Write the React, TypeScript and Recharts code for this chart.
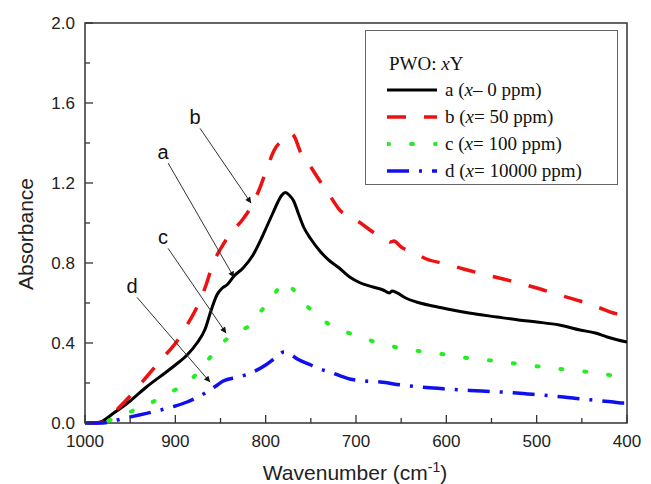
import { LineChart, Line, XAxis, YAxis, ReferenceArea, ReferenceLine } from 'recharts';

// wavenumber (cm-1) / absorbance pairs
const waveA = [1000, 990, 983, 969, 950, 932, 910, 900, 887, 876, 867, 861, 854, 848, 843, 835, 825, 814, 805, 799, 792, 787, 782, 778, 774, 769, 764, 758, 750, 740, 729, 720, 707, 695, 681, 670, 663, 660, 655, 645, 633, 615, 599, 575, 544, 520, 500, 475, 452, 435, 422, 410, 400];
const absA = [0, 0, 0.005, 0.047, 0.11, 0.18, 0.255, 0.29, 0.34, 0.4, 0.47, 0.555, 0.64, 0.675, 0.69, 0.735, 0.775, 0.84, 0.92, 0.98, 1.05, 1.1, 1.14, 1.152, 1.14, 1.11, 1.05, 0.98, 0.92, 0.86, 0.81, 0.78, 0.73, 0.7, 0.68, 0.665, 0.65, 0.66, 0.652, 0.625, 0.605, 0.585, 0.57, 0.55, 0.53, 0.515, 0.505, 0.49, 0.465, 0.45, 0.43, 0.415, 0.405];

const waveB = [1000, 990, 982, 975, 969, 950, 932, 915, 898, 887, 876, 866, 858, 850, 839, 825, 815, 806, 798, 791, 780, 772, 768, 762, 750, 740, 728, 717, 705, 695, 683, 673, 665, 662, 658, 650, 635, 622, 600, 581, 560, 537, 516, 496, 475, 452, 430, 415, 404, 400];
const absB = [0, 0, 0.003, 0.02, 0.047, 0.135, 0.23, 0.32, 0.41, 0.49, 0.58, 0.69, 0.8, 0.87, 0.947, 1.02, 1.09, 1.18, 1.28, 1.36, 1.42, 1.447, 1.43, 1.36, 1.28, 1.21, 1.13, 1.06, 1.03, 1.0, 0.96, 0.93, 0.91, 0.905, 0.91, 0.88, 0.85, 0.82, 0.795, 0.77, 0.745, 0.72, 0.695, 0.67, 0.64, 0.61, 0.575, 0.55, 0.54, 0.54];

const waveC = [1000, 985, 975, 959, 932, 908, 882, 863, 843, 830, 817, 807, 797, 788, 779, 770, 758, 745, 732, 720, 706, 682, 657, 631, 605, 581, 555, 529, 503, 478, 453, 430, 404, 400];
const absC = [0, 0, 0.01, 0.04, 0.09, 0.147, 0.22, 0.32, 0.42, 0.46, 0.49, 0.55, 0.6, 0.66, 0.705, 0.67, 0.6, 0.55, 0.5, 0.47, 0.447, 0.41, 0.38, 0.36, 0.345, 0.327, 0.315, 0.3, 0.285, 0.272, 0.26, 0.247, 0.23, 0.228];

const waveD = [1000, 980, 970, 958, 940, 917, 900, 887, 875, 865, 855, 847, 830, 814, 800, 788, 780, 775, 765, 750, 740, 729, 707, 690, 673, 650, 622, 600, 574, 548, 522, 496, 470, 450, 433, 415, 404, 400];
const absD = [0, 0, 0.008, 0.022, 0.04, 0.064, 0.085, 0.105, 0.13, 0.155, 0.185, 0.21, 0.23, 0.255, 0.29, 0.33, 0.355, 0.35, 0.32, 0.29, 0.27, 0.255, 0.22, 0.21, 0.205, 0.19, 0.177, 0.17, 0.163, 0.157, 0.15, 0.14, 0.13, 0.12, 0.113, 0.105, 0.1, 0.1];

const seriesIds = ['a', 'b', 'c', 'd'];
const seriesConc = ['– 0', '= 50', '= 100', '= 10000'];

const xTicks = [1000, 950, 900, 850, 800, 750, 700, 650, 600, 550, 500, 450, 400];
const yTicks = [0, 0.2, 0.4, 0.6, 0.8, 1.0, 1.2, 1.4, 1.6, 1.8, 2.0];

// arrow annotations: label, tail (wavenumber, absorbance), head
const annoLabels = ['a', 'b', 'c', 'd'];
const annoFrom = [[908, 1.3], [872.6, 1.473], [908, 0.873], [942.4, 0.628]];
const annoTo = [[835, 0.728], [816.1, 1.099], [843.8, 0.449], [861.5, 0.204]];

const toRows = (w: number[], a: number[]) => w.map((v, i) => ({ w: v, y: a[i] }));
const series = [toRows(waveA, absA), toRows(waveB, absB), toRows(waveC, absC), toRows(waveD, absD)];

const styles = [
  { stroke: '#000000', width: 3, dash: undefined, cap: 'butt' },
  { stroke: '#ee1111', width: 3.5, dash: '19 18', cap: 'butt' },
  { stroke: '#22ee22', width: 4, dash: '2 22', cap: 'round' },
  { stroke: '#1010ee', width: 3.5, dash: '22 10 3 10', cap: 'butt' },
];

const sans = '"Liberation Sans", Arial, sans-serif';
const serif = '"Liberation Serif", "Times New Roman", serif';

const XTick = (p: any) => {
  const v = p.payload.value;
  const major = v % 100 === 0;
  return (
    <g>
      <line x1={p.x} y1={p.y} x2={p.x} y2={p.y - (major ? 8 : 5)} stroke="#333" strokeWidth={1.3} />
      {major && (
        <text x={p.x} y={p.y + 24} textAnchor="middle" fontSize={17} fontFamily={sans} fill="#222">{v}</text>
      )}
    </g>
  );
};

const YTick = (p: any) => {
  const v = p.payload.value;
  const major = Math.round(v * 10) % 4 === 0;
  return (
    <g>
      <line x1={p.x} y1={p.y} x2={p.x + (major ? 8 : 5)} y2={p.y} stroke="#333" strokeWidth={1.3} />
      {major && (
        <text x={p.x - 10} y={p.y + 6} textAnchor="end" fontSize={17} fontFamily={sans} fill="#222">{v.toFixed(1)}</text>
      )}
    </g>
  );
};

const arrow = (label: string) => (p: any) => (
  <g>
    <line x1={p.x1} y1={p.y1} x2={p.x2} y2={p.y2} stroke="#333" strokeWidth={1} markerEnd="url(#arrowHead)" />
    <text x={p.x1 - 5} y={p.y1 - 4} textAnchor="middle" fontSize={20} fontFamily={sans} fill="#111">{label}</text>
  </g>
);

function LegendBox() {
  return (
    <div style={{ position: 'absolute', left: 365, top: 30, width: 253, height: 155, border: '1px solid #666', background: '#fff', fontFamily: serif, fontSize: 19, color: '#111', boxSizing: 'border-box', paddingTop: 20 }}>
      <div style={{ height: 25, lineHeight: '25px', paddingLeft: 23 }}>PWO: <i>x</i>Y</div>
      {seriesIds.map((id, i) => (
        <div key={id} style={{ height: 27, display: 'flex', alignItems: 'center', paddingLeft: 21 }}>
          <svg width={50} height={10} style={{ marginRight: 8 }}>
            <line x1={0} y1={5} x2={50} y2={5} stroke={styles[i].stroke} strokeWidth={styles[i].width}
              strokeDasharray={styles[i].dash} strokeLinecap={styles[i].cap as any} />
          </svg>
          <span>{id} (<i>x</i>{seriesConc[i]} ppm)</span>
        </div>
      ))}
    </div>
  );
}

export default function App() {
  return (
    <div style={{ position: 'absolute', left: 0, top: 0, width: 651, height: 484, background: '#fff' }}>
      <LineChart width={651} height={484} data={series[0]} margin={{ top: 23, right: 24, bottom: 21, left: 0 }}>
        <defs>
          <marker id="arrowHead" viewBox="0 0 10 10" refX={10} refY={5} markerWidth={9} markerHeight={6}
            markerUnits="userSpaceOnUse" orient="auto">
            <path d="M0,0 L10,5 L0,10 z" fill="#111" />
          </marker>
        </defs>
        <XAxis type="number" dataKey="w" domain={[400, 1000]} reversed allowDataOverflow ticks={xTicks} interval={0}
          tick={<XTick />} tickLine={false} axisLine={false} tickSize={0} tickMargin={0} height={40}
          label={{
            content: () => (
              <text x={355} y={480} textAnchor="middle" fontSize={21} fontFamily={sans} fill="#222">
                Wavenumber (cm<tspan dy={-8} fontSize={14}>-1</tspan><tspan dy={8}>)</tspan>
              </text>
            ),
          }} />
        <YAxis type="number" domain={[0, 2]} ticks={yTicks} interval={0} tick={<YTick />} tickLine={false}
          axisLine={false} tickSize={0} tickMargin={0} width={85}
          label={{
            content: () => (
              <text x={33} y={234} transform="rotate(-90 33 234)" textAnchor="middle" fontSize={21} fontFamily={sans} fill="#222">
                Absorbance
              </text>
            ),
          }} />
        <ReferenceArea x1={1000} x2={400} y1={0} y2={2} fill="none" stroke="#333" strokeWidth={1.5} ifOverflow="visible" />
        {series.map((rows, i) => (
          <Line key={seriesIds[i]} data={rows} dataKey="y" type="monotone" dot={false} stroke={styles[i].stroke}
            strokeWidth={styles[i].width} strokeDasharray={styles[i].dash} strokeLinecap={styles[i].cap as any}
            isAnimationActive={false} />
        ))}
        {annoLabels.map((l, i) => (
          <ReferenceLine key={l} segment={[{ x: annoFrom[i][0], y: annoFrom[i][1] }, { x: annoTo[i][0], y: annoTo[i][1] }]}
            ifOverflow="visible" shape={arrow(l)} />
        ))}
      </LineChart>
      <LegendBox />
    </div>
  );
}
